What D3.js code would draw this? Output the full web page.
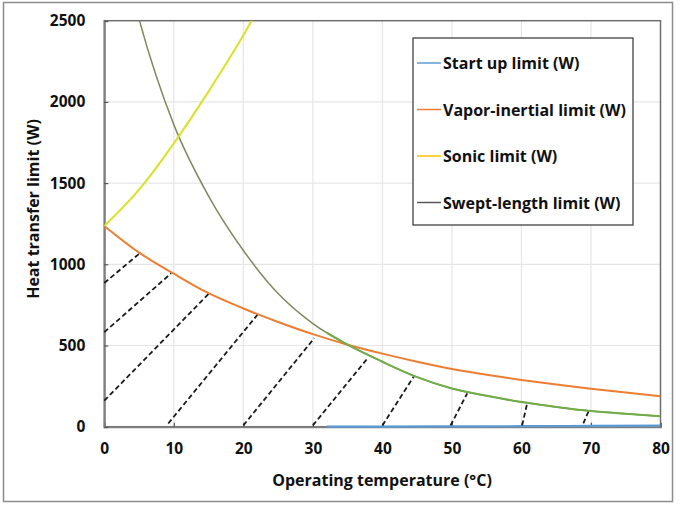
<!DOCTYPE html>
<html>
<head>
<meta charset="utf-8">
<script src="https://cdn.jsdelivr.net/npm/d3@7"></script>
<style>
  html, body { margin: 0; padding: 0; background: #fff; }
  svg { display: block; }
  text { font-family: "Open Sans", Lato, sans-serif; font-weight: bold; fill: #111; }
</style>
</head>
<body>
<svg id="chart" width="681" height="505"></svg>
<script>
// Operating temperature (°C), sampled every 5 degrees
const temps = [0, 5, 10, 15, 20, 25, 30, 35, 40, 45, 50, 55, 60, 65, 70, 75, 80];
// Vapor-inertial limit (W)
const vaporInertial = [1236, 1072, 942, 822, 728, 645, 570, 505, 450, 400, 355, 320, 288, 260, 234, 210, 188];
// Swept-length limit (W)
const sweptLength = [3440, 2510, 1860, 1420, 1085, 820, 635, 505, 400, 305, 235, 190, 152, 122, 97, 80, 65];
// Sonic limit (W)
const sonicTemps = [0, 5, 10, 15, 20, 25];
const sonic = [1236, 1460, 1745, 2065, 2410, 2800];
// Start up limit (W)
const startupTemps = [32, 40, 50, 60, 70, 80];
const startup = [0, 1, 2, 3, 5, 7];

// Hatching of the operating region below the limits
const hatchFromT = [0, 0, 0, 9.2, 20, 30, 40, 49.8, 60.1, 68.9];
const hatchFromW = [885, 582, 160, 20, 8, 8, 8, 8, 8, 20];
const hatchToT = [5.1, 9.6, 15, 22, 30.2, 37.8, 44.5, 52.2, 60.8, 69.7];
const hatchToW = [1068, 944, 818, 688, 545, 418, 308, 205, 140, 100];

const xTicks = [0, 10, 20, 30, 40, 50, 60, 70, 80];
const yTicks = [0, 500, 1000, 1500, 2000, 2500];

const legendLabels = ["Start up limit (W)", "Vapor-inertial limit (W)", "Sonic limit (W)", "Swept-length limit (W)"];
const legendColors = ["#5b9bd5", "#ed7d31", "#ffc000", "#595959"];

const svg = d3.select("#chart");
const plot = { left: 104.3, right: 660.5, top: 20.7, bottom: 426.7 };

const x = d3.scaleLinear().domain([0, 80]).range([plot.left, plot.right]);
const y = d3.scaleLinear().domain([0, 2500]).range([plot.bottom, plot.top]);

// outer chart frame
svg.append("rect")
  .attr("x", 3.5).attr("y", 2.5).attr("width", 669).attr("height", 499)
  .attr("fill", "#fff").attr("stroke", "#8c8c8c").attr("stroke-width", 1.5);

// gridlines
const grid = svg.append("g");
grid.selectAll("line.gx").data(xTicks.slice(1, -1)).join("line")
  .attr("x1", d => x(d)).attr("x2", d => x(d))
  .attr("y1", plot.top).attr("y2", plot.bottom)
  .attr("stroke", "#e6e6e6").attr("stroke-width", 1.2);
grid.selectAll("line.gy").data(yTicks.slice(1, -1)).join("line")
  .attr("y1", d => y(d)).attr("y2", d => y(d))
  .attr("x1", plot.left).attr("x2", plot.right)
  .attr("stroke", "#e6e6e6").attr("stroke-width", 1.2);

// plot border
svg.append("rect")
  .attr("x", plot.left).attr("y", plot.top)
  .attr("width", plot.right - plot.left).attr("height", plot.bottom - plot.top)
  .attr("fill", "none").attr("stroke", "#6e6e6e").attr("stroke-width", 1.5);

// axes with inward ticks
const xAxis = d3.axisBottom(x).tickValues(xTicks).tickSize(-4).tickPadding(16).tickFormat(d3.format("d"));
const yAxis = d3.axisLeft(y).tickValues(yTicks).tickSize(-4).tickPadding(19).tickFormat(d3.format("d"));

const gx = svg.append("g").attr("transform", `translate(0,${plot.bottom})`).call(xAxis);
const gy = svg.append("g").attr("transform", `translate(${plot.left},0)`).call(yAxis);
[gx, gy].forEach(g => {
  g.select(".domain").attr("stroke", "#7f7f7f").attr("stroke-width", 2);
  g.selectAll(".tick line").attr("stroke", "#555").attr("stroke-width", 1.2);
  g.selectAll(".tick text").style("font-family", "'Open Sans', sans-serif").style("font-weight", "bold")
    .style("font-size", "15.5px").attr("fill", "#111");
});

// clipping to the plot area
svg.append("clipPath").attr("id", "clip")
  .append("rect").attr("x", plot.left).attr("y", plot.top)
  .attr("width", plot.right - plot.left).attr("height", plot.bottom - plot.top + 2);
svg.append("clipPath").attr("id", "clipLow")
  .append("rect").attr("x", x(32)).attr("y", plot.top)
  .attr("width", plot.right - x(32)).attr("height", plot.bottom - plot.top + 2);

const line = d3.line().x(d => x(d[0])).y(d => y(d[1])).curve(d3.curveMonotoneX);
const lines = svg.append("g").attr("clip-path", "url(#clip)");

// hatching
const hatch = svg.append("g");
hatchFromT.forEach((t, i) => {
  hatch.append("line")
    .attr("x1", x(t)).attr("y1", y(hatchFromW[i]))
    .attr("x2", x(hatchToT[i])).attr("y2", y(hatchToW[i]))
    .attr("stroke", "#1a1a1a").attr("stroke-width", 1.8)
    .attr("stroke-dasharray", "5,3");
});

// swept-length limit
const sweptPts = temps.map((t, i) => [t, sweptLength[i]]);
lines.append("path").datum(sweptPts).attr("d", line)
  .attr("fill", "none").attr("stroke", "#7f8a5c").attr("stroke-width", 1.5);
svg.append("g").attr("clip-path", "url(#clipLow)")
  .append("path").datum(sweptPts).attr("d", line)
  .attr("fill", "none").attr("stroke", "#70ad47").attr("stroke-width", 2);

// vapor-inertial limit
lines.append("path").datum(temps.map((t, i) => [t, vaporInertial[i]])).attr("d", line)
  .attr("fill", "none").attr("stroke", "#ed7d31").attr("stroke-width", 2);

// sonic limit
lines.append("path").datum(sonicTemps.map((t, i) => [t, sonic[i]])).attr("d", line)
  .attr("fill", "none").attr("stroke", "#d8e22a").attr("stroke-width", 2);

// start up limit
lines.append("path").datum(startupTemps.map((t, i) => [t, startup[i]])).attr("d", line)
  .attr("fill", "none").attr("stroke", "#5b9bd5").attr("stroke-width", 2.2);

// axis titles
svg.append("text")
  .attr("x", 382).attr("y", 480).attr("text-anchor", "middle").attr("dominant-baseline", "central")
  .style("font-size", "16px").text("Operating temperature (°C)");
svg.append("text")
  .attr("transform", "translate(33,209) rotate(-90)")
  .attr("text-anchor", "middle").attr("dominant-baseline", "central")
  .style("font-size", "16px").text("Heat transfer limit (W)");

// legend
const lg = svg.append("g");
lg.append("rect").attr("x", 413).attr("y", 38).attr("width", 220).attr("height", 187)
  .attr("fill", "#fff").attr("stroke", "#333").attr("stroke-width", 1.2);
legendLabels.forEach((label, i) => {
  const cy = 63 + i * 46.5;
  lg.append("line").attr("x1", 417).attr("x2", 441).attr("y1", cy).attr("y2", cy)
    .attr("stroke", legendColors[i]).attr("stroke-width", 1.5);
  lg.append("text").attr("x", 443).attr("y", cy).attr("dominant-baseline", "central")
    .style("font-size", "16px").text(label);
});
</script>
</body>
</html>
